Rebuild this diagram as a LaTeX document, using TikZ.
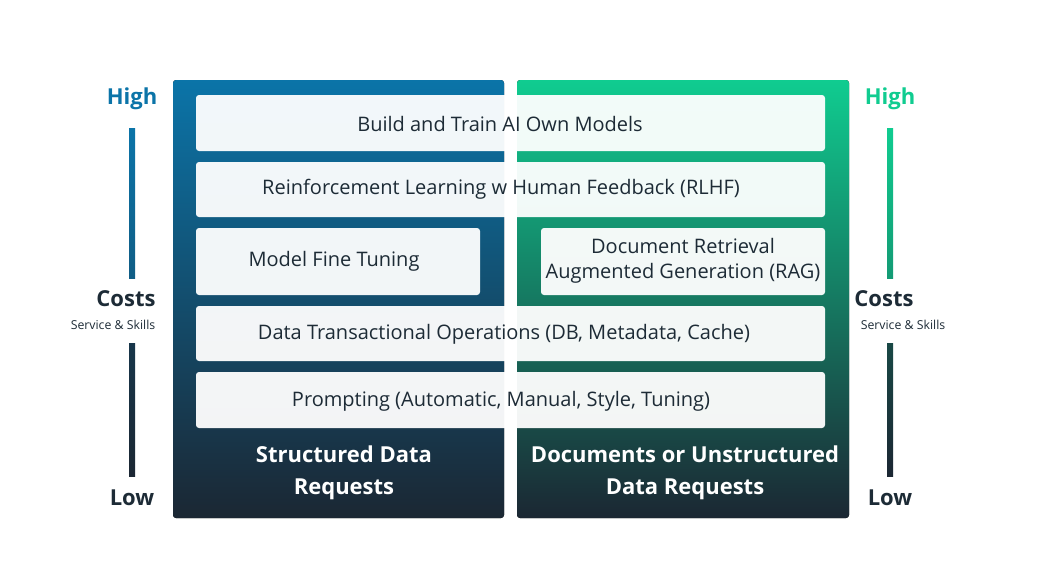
\documentclass[tikz,border=0pt]{standalone}
\usepackage{fontspec}
\setmainfont{Open Sans}
\definecolor{bl}{HTML}{0B74A8}
\definecolor{gr}{HTML}{10CC90}
\definecolor{dk}{HTML}{1B2733}
\definecolor{tx}{HTML}{1D2B36}
\begin{document}
\begin{tikzpicture}[x=1pt,y=-1pt,
 box/.style={fill=white,fill opacity=0.95,rounded corners=3pt},
 btxt/.style={text=tx,font=\fontsize{20}{25}\selectfont,align=center},
 lab/.style={font=\bfseries\fontsize{22}{32}\selectfont,align=center},
 small/.style={font=\fontsize{12.3}{14}\selectfont,text=tx}]
\useasboundingbox (0,0) rectangle (1043,578);
\fill[top color=bl,bottom color=dk,rounded corners=3pt] (173,80) rectangle (504,518);
\fill[top color=gr,bottom color=dk,rounded corners=3pt] (517,80) rectangle (849,518);
\fill[box] (196,95) rectangle (825,151); \node[btxt] (b1) at (500,124) {Build and Train AI Own Models};
\fill[box] (196,162) rectangle (825,217); \node[btxt] (b2) at (501,189) {Reinforcement Learning w Human Feedback (RLHF)};
\fill[box] (196,228) rectangle (480,295); \node[btxt] (b3) at (334,261) {Model Fine Tuning};
\fill[box] (541,228) rectangle (825,295); \node[btxt] (b4) at (683,261) {Document Retrieval\\Augmented Generation (RAG)};
\fill[box] (196,306) rectangle (825,361); \node[btxt] (b5) at (504,334) {Data Transactional Operations (DB, Metadata, Cache)};
\fill[box] (196,372) rectangle (825,428); \node[btxt] (b6) at (501,401) {Prompting (Automatic, Manual, Style, Tuning)};
\node[lab,text=white] (s) at (344,473) {Structured Data\\Requests};
\node[lab,text=white] (u) at (685,473) {Documents or Unstructured\\Data Requests};
\foreach \x/\c/\n in {132/bl/L,890/gr/R}{
 \node[lab,text=\c] (hi\n) at (\x,99) {High};
 \shade[top color=\c,bottom color=\c!70!dk] (\x-3,128) rectangle (\x+3,278);
 \node[lab,text=tx] (co\n) at (\x-6,299) {Costs};
 \shade[top color=dk!80!\c,bottom color=dk] (\x-3,343) rectangle (\x+3,476);
 \node[lab,text=tx] (lo\n) at (\x,498) {Low};
}
\node[small] (ssL) at (113,325) {Service \& Skills};
\node[small] (ssR) at (903,325) {Service \& Skills};
\end{tikzpicture}
\end{document}
